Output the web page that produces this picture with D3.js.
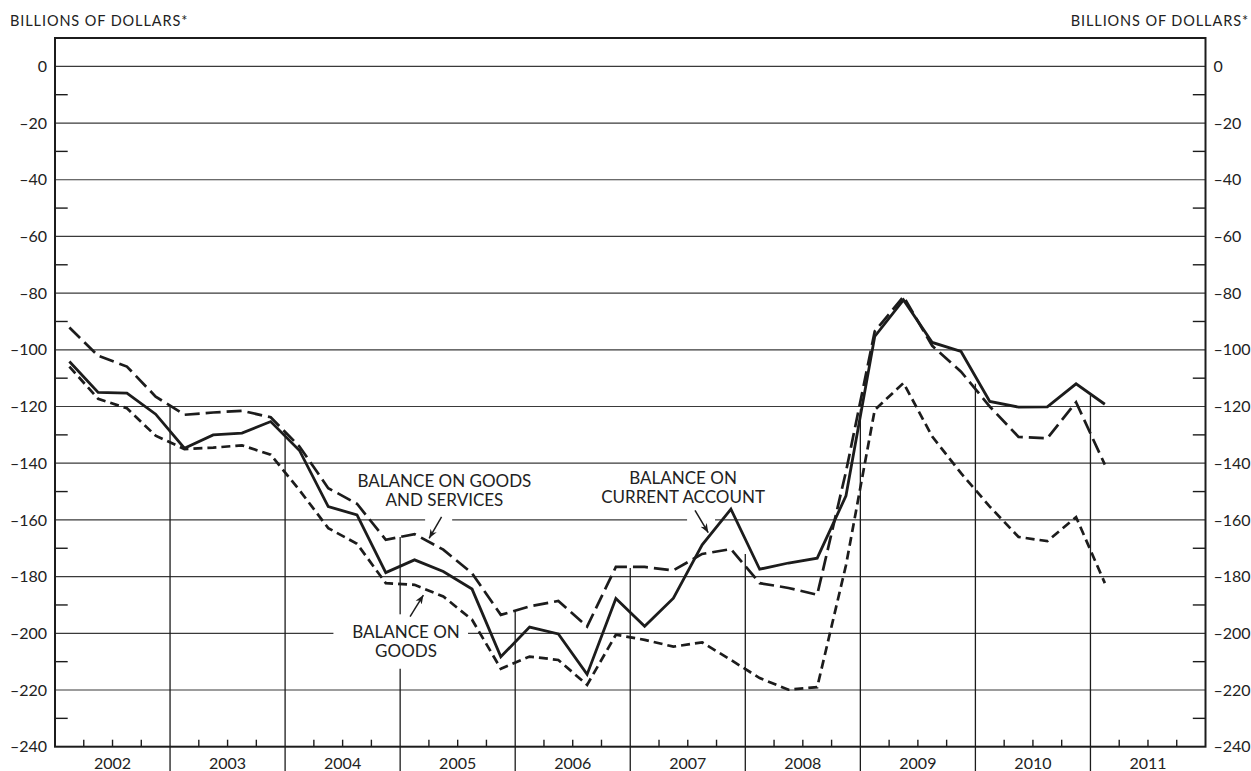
<!DOCTYPE html>
<html>
<head>
<meta charset="utf-8">
<script src="https://cdn.jsdelivr.net/npm/d3@7/dist/d3.min.js"></script>
<style>
  body { margin: 0; background: #fff; }
  text { font-family: Lato, "Open Sans", sans-serif; fill: #222; }
</style>
</head>
<body>
<svg id="chart" width="1251" height="771"></svg>
<script>
// quarterly data, 2002Q1 .. 2011Q1 (billions of dollars)
const yearLabels = ["2002", "2003", "2004", "2005", "2006", "2007", "2008", "2009", "2010", "2011"];

const goodsServices = [
  -92.1, -102.1, -105.9, -116.5,
  -122.9, -122.1, -121.5, -123.8,
  -134.1, -148.8, -154.3, -167.0,
  -165.0, -170.5, -178.8, -193.5,
  -190.5, -188.6, -197.6, -176.6,
  -176.6, -177.8, -172.0, -170.3,
  -182.3, -184.0, -186.4, -143.0,
  -93.5, -81.2, -98.6, -107.7,
  -120.0, -130.7, -131.2, -118.5,
  -140.5
];

const currentAccount = [
  -104.1, -115.0, -115.3, -122.7,
  -134.7, -130.0, -129.4, -125.3,
  -135.5, -155.3, -158.2, -178.6,
  -174.1, -178.2, -184.4, -208.3,
  -197.8, -200.2, -214.5, -187.7,
  -197.5, -187.6, -168.8, -156.2,
  -177.4, -175.2, -173.5, -151.5,
  -95.3, -82.4, -97.4, -100.6,
  -118.2, -120.2, -120.1, -112.0,
  -119.2
];

const goods = [
  -105.9, -117.3, -120.6, -130.3,
  -135.0, -134.5, -133.7, -137.0,
  -149.5, -162.9, -168.4, -182.3,
  -182.9, -187.0, -195.2, -212.5,
  -208.2, -209.4, -218.2, -200.5,
  -202.3, -204.7, -203.2, -209.4,
  -215.8, -219.9, -219.0, -176.0,
  -121.2, -111.7, -130.6, -143.5,
  -155.3, -166.0, -167.5, -159.0,
  -182.3
];

const yTickValues = [0, -20, -40, -60, -80, -100, -120, -140, -160, -180, -200, -220, -240];
const yMinorTicks = [-10, -30, -50, -70, -90, -110, -130, -150, -170, -190, -210, -230];
// value where each year divider (2003 .. 2011) stops at the top
const dividerTops = [-120, -129, -166, -192, -177, -172, -121, -112, -116];

const W = 1251, H = 771;
const plotL = 55, plotR = 1205.5, plotT = 38, plotB = 746.7;
const firstYear = 2002;

const x = d3.scaleLinear().domain([firstYear, firstYear + yearLabels.length]).range([plotL, plotR]);
const y = d3.scaleLinear().domain([-240, 10]).range([plotB, plotT]);
const qx = i => x(firstYear + (i + 0.5) / 4);

const svg = d3.select("#chart");
const ink = "#1c1c1c";
const fmt = d => d === 0 ? "0" : "\u2013" + Math.abs(d);

// horizontal grid
svg.append("g")
  .selectAll("line")
  .data(yTickValues.filter(v => v > -240))
  .join("line")
  .attr("x1", plotL).attr("x2", plotR)
  .attr("y1", d => y(d)).attr("y2", d => y(d))
  .attr("stroke", "#3a3a3a").attr("stroke-width", 1.2);

// minor ticks on both sides
const minor = svg.append("g").attr("stroke", ink).attr("stroke-width", 1.4);
minor.selectAll("line.l").data(yMinorTicks).join("line").attr("class", "l")
  .attr("x1", plotL).attr("x2", plotL + 12.7)
  .attr("y1", d => y(d)).attr("y2", d => y(d));
minor.selectAll("line.r").data(yMinorTicks).join("line").attr("class", "r")
  .attr("x1", plotR - 12.7).attr("x2", plotR)
  .attr("y1", d => y(d)).attr("y2", d => y(d));

// year dividers
const dividerYears = yearLabels.slice(1).map(Number);
svg.append("g")
  .selectAll("line")
  .data(dividerYears)
  .join("line")
  .attr("x1", d => x(d)).attr("x2", d => x(d))
  .attr("y1", (d, i) => y(dividerTops[i])).attr("y2", H)
  .attr("stroke", ink).attr("stroke-width", 1.3);

// quarter ticks
const qTicks = [];
yearLabels.forEach(yr => [1, 2, 3].forEach(q => qTicks.push(+yr + q / 4)));
svg.append("g")
  .selectAll("line")
  .data(qTicks)
  .join("line")
  .attr("x1", d => x(d)).attr("x2", d => x(d))
  .attr("y1", plotB).attr("y2", plotB - 7)
  .attr("stroke", ink).attr("stroke-width", 1.4);

// knock-outs behind annotation text and arrows
const knock = [
  { x0: 2005.0 - 0.58, x1: 2005.0 + 0.59, v0: -193.3, v1: -212.5 },  // "balance on goods" text
  { x0: 2005.217, x1: 2005.452, v0: -157.6, v1: -162.6 },            // goods & services arrow
  { x0: 2007.494, x1: 2007.737, v0: -157.6, v1: -162.6 }             // current account arrow
];
svg.append("g")
  .selectAll("rect")
  .data(knock)
  .join("rect")
  .attr("x", d => x(d.x0)).attr("width", d => x(d.x1) - x(d.x0))
  .attr("y", d => y(d.v0)).attr("height", d => y(d.v1) - y(d.v0))
  .attr("fill", "#fff");

// axes labels
const axisFont = g => g.attr("font-family", "Lato, sans-serif").attr("font-size", 16)
  .call(g => g.select(".domain").remove())
  .call(g => g.selectAll("text").attr("fill", "#222"));

svg.append("g").attr("transform", `translate(${plotL},0)`)
  .call(d3.axisLeft(y).tickValues(yTickValues).tickSize(0).tickPadding(8).tickFormat(fmt))
  .call(axisFont);

svg.append("g").attr("transform", `translate(${plotR},0)`)
  .call(d3.axisRight(y).tickValues(yTickValues).tickSize(0).tickPadding(8).tickFormat(fmt))
  .call(axisFont);

svg.append("g")
  .selectAll("text")
  .data(yearLabels)
  .join("text")
  .attr("x", d => x(+d + 0.5)).attr("y", 763.5).attr("dy", "0.35em")
  .attr("text-anchor", "middle").attr("font-size", 16)
  .text(d => d);

// unit titles
svg.append("text").attr("x", 10).attr("y", 25.7).attr("font-size", 14.5)
  .attr("letter-spacing", 0.9).text("BILLIONS OF DOLLARS*");
svg.append("text").attr("x", 1249).attr("y", 25.7).attr("font-size", 14.5)
  .attr("letter-spacing", 0.9).attr("text-anchor", "end").text("BILLIONS OF DOLLARS*");

// series
const line = d3.line().x((d, i) => qx(i)).y(d => y(d));
const series = [
  { data: goodsServices, dash: "15,6", width: 2.7 },
  { data: goods, dash: "9,5", width: 2.7 },
  { data: currentAccount, dash: null, width: 2.8 }
];
svg.append("g")
  .selectAll("path")
  .data(series)
  .join("path")
  .attr("d", d => line(d.data))
  .attr("fill", "none")
  .attr("stroke", ink)
  .attr("stroke-width", d => d.width)
  .attr("stroke-dasharray", d => d.dash)
  .attr("stroke-linejoin", "miter");

// frame
svg.append("rect")
  .attr("x", plotL).attr("y", plotT)
  .attr("width", plotR - plotL).attr("height", plotB - plotT)
  .attr("fill", "none").attr("stroke", ink).attr("stroke-width", 2);

// annotations
svg.append("defs").append("marker")
  .attr("id", "arrow").attr("viewBox", "0 0 10 10")
  .attr("refX", 10).attr("refY", 5)
  .attr("markerWidth", 9).attr("markerHeight", 9)
  .attr("markerUnits", "userSpaceOnUse")
  .attr("orient", "auto")
  .append("path").attr("d", "M0,1 L10,5 L0,9 L3,5 z").attr("fill", ink);

const notes = [
  { lines: ["BALANCE ON GOODS", "AND SERVICES"], cx: 2005.385, v: [-146.2, -152.9],
    from: [2005.360, -158.9], to: [2005.252, -166.5] },
  { lines: ["BALANCE ON", "CURRENT ACCOUNT"], cx: 2007.459, v: [-145.1, -151.8],
    from: [2007.563, -156.6], to: [2007.678, -164.5] },
  { lines: ["BALANCE ON", "GOODS"], cx: 2005.051, v: [-199.5, -206.2],
    from: [2005.086, -194.1], to: [2005.202, -186.5] }
];

const ng = svg.append("g");
notes.forEach(n => {
  n.lines.forEach((t, k) => {
    ng.append("text")
      .attr("x", x(n.cx)).attr("y", y(n.v[k])).attr("dy", "0.36em")
      .attr("text-anchor", "middle").attr("font-size", 17)
      .text(t);
  });
  ng.append("line")
    .attr("x1", x(n.from[0])).attr("y1", y(n.from[1]))
    .attr("x2", x(n.to[0])).attr("y2", y(n.to[1]))
    .attr("stroke", ink).attr("stroke-width", 1.5)
    .attr("marker-end", "url(#arrow)");
});
</script>
</body>
</html>
